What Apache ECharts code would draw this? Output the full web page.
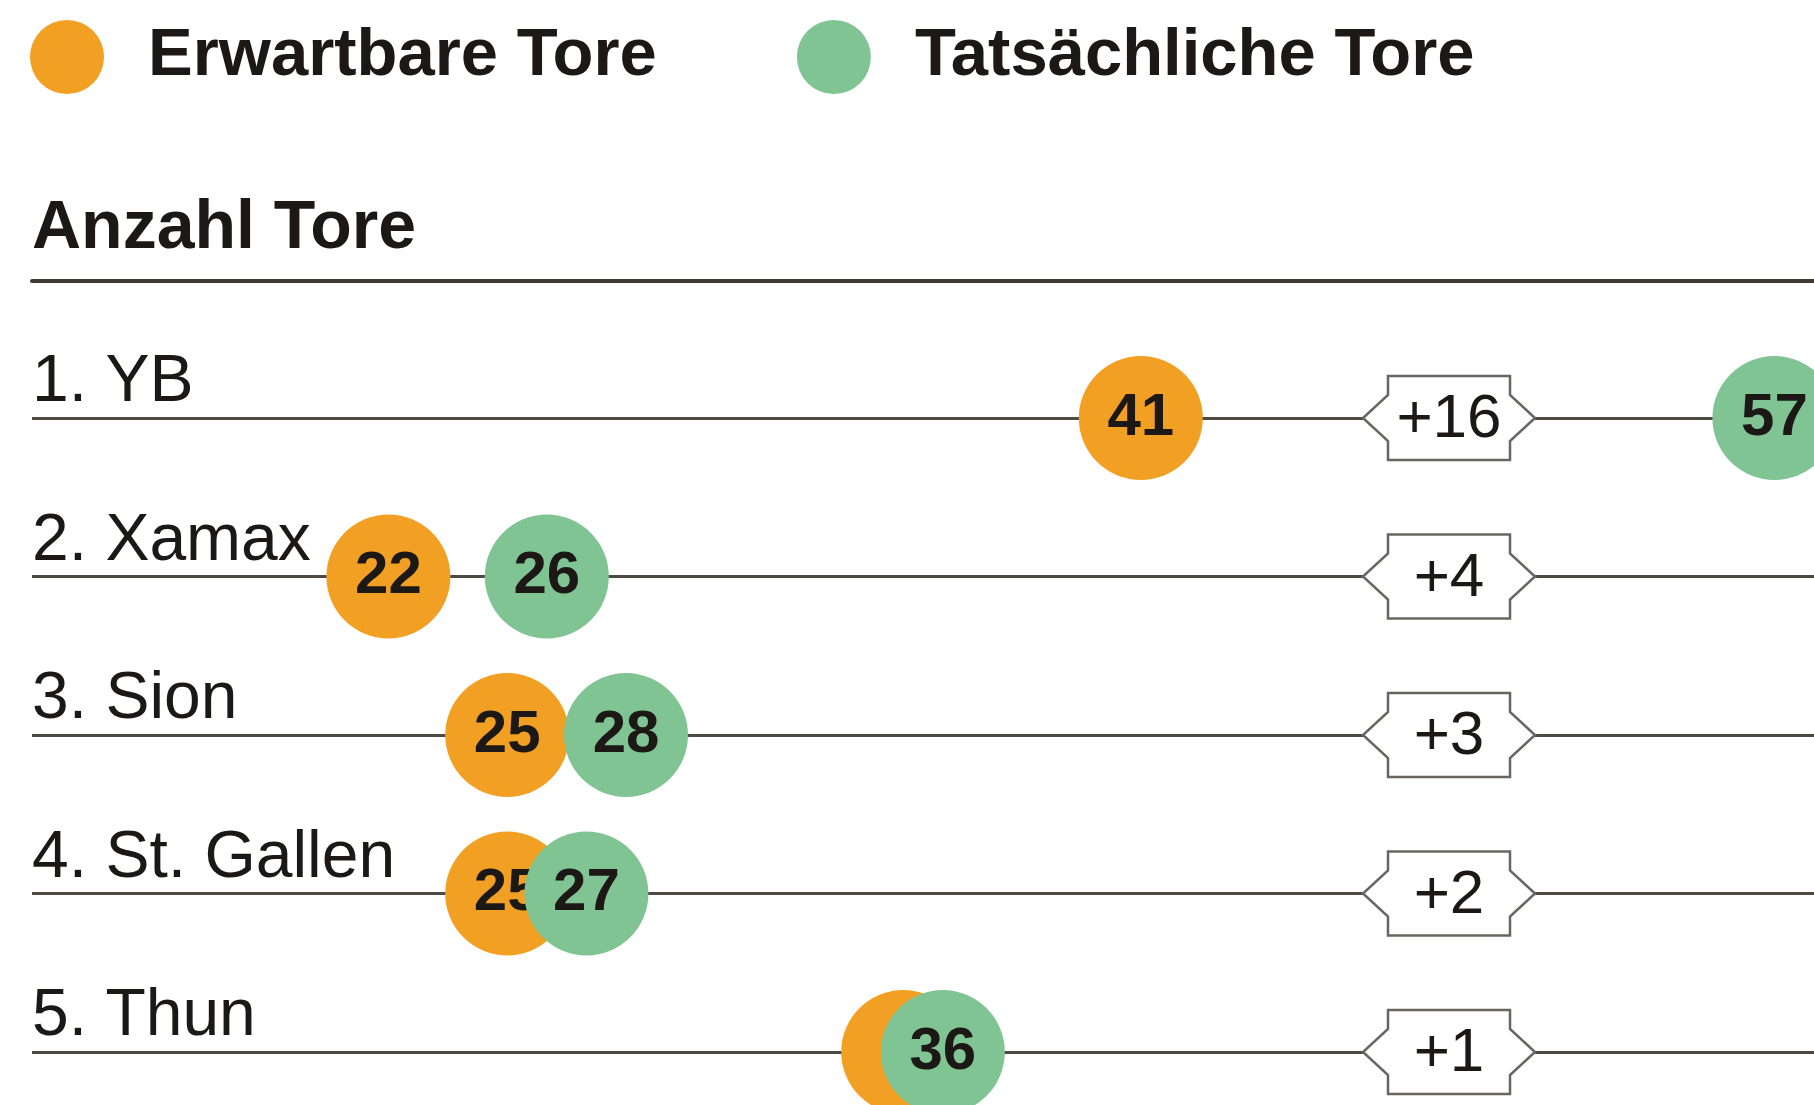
<!DOCTYPE html>
<html>
<head>
<meta charset="utf-8">
<script src="https://cdn.jsdelivr.net/npm/echarts@6/dist/echarts.min.js"></script>
<style>
  html, body { margin: 0; padding: 0; background: #fff; }
  #chart { width: 1814px; height: 1105px; }
</style>
</head>
<body>
<div id="chart"></div>
<script>
// data
var teams = ['1. YB', '2. Xamax', '3. Sion', '4. St. Gallen', '5. Thun'];
var expectedGoals = [41, 22, 25, 25, 35];
var actualGoals = [57, 26, 28, 27, 36];

var FONT = "'Liberation Sans', Arial, Helvetica, sans-serif";
var ORANGE = '#F2A024';
var GREEN = '#7FC492';
var TEXT = '#1c1815';
var badgeX = 1449; // column of the difference badges

var chart = echarts.init(document.getElementById('chart'));

var option = {
  animation: false,
  backgroundColor: '#fff',
  textStyle: { fontFamily: FONT },
  title: {
    text: 'Anzahl Tore',
    left: 32,
    top: 195,
    padding: 0,
    textStyle: { fontFamily: FONT, fontSize: 68, fontWeight: 'bold', color: TEXT }
  },
  legend: {
    data: ['Erwartbare Tore', 'Tatsächliche Tore'],
    left: 30,
    top: 20,
    padding: 0,
    icon: 'circle',
    itemWidth: 74,
    itemHeight: 74,
    itemGap: 140,
    selectedMode: false,
    textStyle: {
      fontFamily: FONT, fontSize: 67, fontWeight: 'bold', color: TEXT,
      padding: [0, 0, 0, 39]
    }
  },
  grid: { left: 32, right: 0, top: 418, bottom: 53, containLabel: false },
  xAxis: {
    type: 'value',
    min: 13,
    max: 58,
    position: 'top',
    offset: 137,
    axisLine: { show: true, lineStyle: { color: '#3f3a35', width: 4 } },
    axisTick: { show: false },
    axisLabel: { show: false },
    splitLine: { show: false }
  },
  yAxis: {
    type: 'category',
    data: teams,
    inverse: true,
    boundaryGap: false,
    axisLine: { show: false },
    axisTick: { show: false },
    axisLabel: {
      inside: true,
      interval: 0,
      margin: 0,
      align: 'left',
      verticalAlign: 'bottom',
      padding: [0, 0, 2, 0],
      fontFamily: FONT,
      fontSize: 66,
      color: TEXT
    },
    splitLine: { show: true, interval: 0, lineStyle: { color: '#4f4943', width: 3 } }
  },
  series: [
    {
      name: 'Erwartbare Tore',
      type: 'scatter',
      z: 2,
      symbolSize: 124,
      itemStyle: { color: ORANGE, opacity: 1 },
      data: expectedGoals.map(function (v, i) {
        return {
          value: [v, teams[i]],
          // label is hidden when the other circle sits almost on top of it
          label: { show: actualGoals[i] - v > 1 }
        };
      }),
      label: {
        show: true,
        position: 'inside',
        formatter: function (p) { return p.value[0]; },
        fontFamily: FONT, fontSize: 60, fontWeight: 'bold', color: TEXT
      }
    },
    {
      name: 'Tatsächliche Tore',
      type: 'scatter',
      z: 4,
      symbolSize: 124,
      itemStyle: { color: GREEN, opacity: 1 },
      data: actualGoals.map(function (v, i) { return [v, teams[i]]; }),
      label: {
        show: true,
        position: 'inside',
        formatter: function (p) { return p.value[0]; },
        fontFamily: FONT, fontSize: 60, fontWeight: 'bold', color: TEXT
      }
    },
    {
      name: 'Differenz',
      type: 'custom',
      z: 3,
      clip: false,
      data: actualGoals.map(function (v, i) { return [v - expectedGoals[i], teams[i]]; }),
      renderItem: function (params, api) {
        var y = api.coord([13, api.value(1)])[1];
        var d = api.value(0);
        var pts = [[-61, -42], [61, -42], [61, -23], [86, 0], [61, 23], [61, 42],
                   [-61, 42], [-61, 23], [-86, 0], [-61, -23]];
        return {
          type: 'group',
          children: [
            {
              type: 'polygon',
              shape: { points: pts.map(function (p) { return [badgeX + p[0], y + p[1]]; }) },
              style: { fill: '#fff', stroke: '#6b6560', lineWidth: 2.5 }
            },
            {
              type: 'text',
              style: {
                x: badgeX, y: y + 2,
                text: (d > 0 ? '+' : '') + d,
                align: 'center', verticalAlign: 'middle',
                font: '62px ' + FONT,
                fill: TEXT
              }
            }
          ]
        };
      }
    }
  ]
};

chart.setOption(option);
</script>
</body>
</html>
